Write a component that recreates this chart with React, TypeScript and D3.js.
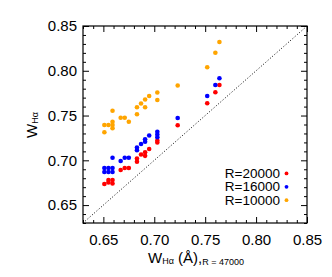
import { useEffect, useRef } from "react";
import * as d3 from "d3";

// values
const redX = [0.651, 0.655, 0.655, 0.659, 0.659, 0.667, 0.671, 0.675, 0.683, 0.683, 0.687, 0.691, 0.691, 0.695, 0.703, 0.703, 0.723, 0.752, 0.760, 0.764];
const redY = [0.6736, 0.678, 0.6753, 0.678, 0.6741, 0.6892, 0.6914, 0.6914, 0.702, 0.6985, 0.7065, 0.705, 0.709, 0.7127, 0.7221, 0.7199, 0.7392, 0.7637, 0.776, 0.7841];

const blueX = [0.651, 0.651, 0.655, 0.655, 0.659, 0.659, 0.659, 0.667, 0.671, 0.675, 0.683, 0.683, 0.687, 0.691, 0.691, 0.695, 0.703, 0.703, 0.703, 0.723, 0.752, 0.760, 0.764];
const blueY = [0.6914, 0.687, 0.6914, 0.687, 0.6914, 0.687, 0.7029, 0.6992, 0.7029, 0.7029, 0.7143, 0.7113, 0.7182, 0.7208, 0.7235, 0.7277, 0.7319, 0.7288, 0.7258, 0.7473, 0.7718, 0.7841, 0.7916];

const orangeX = [0.651, 0.651, 0.655, 0.659, 0.659, 0.659, 0.659, 0.667, 0.671, 0.675, 0.683, 0.683, 0.687, 0.691, 0.691, 0.695, 0.703, 0.703, 0.723, 0.752, 0.760, 0.764];
const orangeY = [0.7313, 0.7394, 0.7394, 0.7394, 0.7431, 0.7358, 0.7554, 0.7476, 0.7476, 0.7431, 0.7514, 0.7592, 0.7635, 0.7679, 0.7592, 0.7718, 0.7757, 0.7674, 0.7836, 0.8039, 0.8202, 0.8321];

const majorTicks = [0.65, 0.70, 0.75, 0.80, 0.85];
const legendLabels = ["R=20000", "R=16000", "R=10000"];
const colors = ["#ff0000", "#0000ff", "#ffa500"];

const App = () => {
    const ref = useRef<SVGSVGElement | null>(null);

    useEffect(() => {
        if (!ref.current) return;
        const svg = d3.select(ref.current);
        svg.selectAll("*").remove();

        const left = 83, right = 307, top = 26, bottom = 223;
        const font = "Liberation Sans, Arial, Helvetica, sans-serif";

        const x = d3.scaleLinear().domain([0.63, 0.85]).range([left, right]);
        const y = d3.scaleLinear().domain([0.63, 0.85]).range([bottom, top]);

        const minor = d3.range(63, 86).map(d => d / 100).filter(d => !majorTicks.some(m => Math.abs(m - d) < 1e-6));

        const styleAxis = (g: any) => {
            g.select(".domain").remove();
            g.selectAll("line").attr("stroke", "#000");
            g.selectAll("text").attr("fill", "#000").style("font-family", font).style("font-size", "15px");
        };

        // bottom
        svg.append("g").attr("transform", `translate(0,${bottom})`)
            .call(d3.axisBottom(x).tickValues(majorTicks).tickFormat(d3.format(".2f")).tickSize(-6).tickPadding(11))
            .call(styleAxis);
        svg.append("g").attr("transform", `translate(0,${bottom})`)
            .call(d3.axisBottom(x).tickValues(minor).tickFormat(() => "").tickSize(-3))
            .call(styleAxis);
        // top
        svg.append("g").attr("transform", `translate(0,${top})`)
            .call(d3.axisTop(x).tickValues(majorTicks).tickFormat(() => "").tickSize(-6))
            .call(styleAxis);
        svg.append("g").attr("transform", `translate(0,${top})`)
            .call(d3.axisTop(x).tickValues(minor).tickFormat(() => "").tickSize(-3))
            .call(styleAxis);
        // left
        svg.append("g").attr("transform", `translate(${left},0)`)
            .call(d3.axisLeft(y).tickValues(majorTicks).tickFormat(d3.format(".2f")).tickSize(-6).tickPadding(6))
            .call(styleAxis);
        svg.append("g").attr("transform", `translate(${left},0)`)
            .call(d3.axisLeft(y).tickValues(minor).tickFormat(() => "").tickSize(-3))
            .call(styleAxis);
        // right
        svg.append("g").attr("transform", `translate(${right},0)`)
            .call(d3.axisRight(y).tickValues(majorTicks).tickFormat(() => "").tickSize(-6))
            .call(styleAxis);
        svg.append("g").attr("transform", `translate(${right},0)`)
            .call(d3.axisRight(y).tickValues(minor).tickFormat(() => "").tickSize(-3))
            .call(styleAxis);

        // frame
        svg.append("rect")
            .attr("x", left).attr("y", top)
            .attr("width", right - left).attr("height", bottom - top)
            .attr("fill", "none").attr("stroke", "#000").attr("stroke-width", 1.2);

        // one-to-one line
        svg.append("line")
            .attr("x1", x(0.63)).attr("y1", y(0.63))
            .attr("x2", x(0.85)).attr("y2", y(0.85))
            .attr("stroke", "#000").attr("stroke-width", 1)
            .attr("stroke-dasharray", "1,2");

        // points
        const series = [
            { xs: redX, ys: redY },
            { xs: blueX, ys: blueY },
            { xs: orangeX, ys: orangeY },
        ];
        series.forEach((s, i) => {
            svg.append("g").selectAll("circle")
                .data(s.xs)
                .enter().append("circle")
                .attr("cx", d => x(d))
                .attr("cy", (_, j) => y(s.ys[j]))
                .attr("r", 2.3)
                .attr("fill", colors[i]);
        });

        // legend
        const lg = svg.append("g");
        legendLabels.forEach((lab, i) => {
            const by = 178 + i * 13.4;
            lg.append("text")
                .attr("x", 280).attr("y", by)
                .attr("text-anchor", "end")
                .style("font-family", font).style("font-size", "13.5px")
                .text(lab);
            lg.append("circle")
                .attr("cx", 286.5).attr("cy", by - 4.6)
                .attr("r", 1.9)
                .attr("fill", colors[i]);
        });

        // x label
        const xl = svg.append("text")
            .attr("x", 196).attr("y", 263)
            .attr("text-anchor", "middle")
            .style("font-family", font).style("font-size", "15px");
        xl.append("tspan").text("W");
        xl.append("tspan").attr("font-size", "9px").attr("dy", 1).text("Hα");
        xl.append("tspan").attr("dy", -1).text(" (Å),");
        xl.append("tspan").attr("font-size", "9px").attr("dy", 2).text("R = 47000");

        // y label
        const yl = svg.append("text")
            .attr("transform", "translate(37,125) rotate(-90)")
            .attr("text-anchor", "middle")
            .style("font-family", font).style("font-size", "15px");
        yl.append("tspan").text("W");
        yl.append("tspan").attr("font-size", "9px").attr("dy", 1).text("Hα");
    }, []);

    return (
        <svg ref={ref} width={332} height={277}
            style={{ position: "absolute", left: 0, top: 0, background: "#fff" }} />
    );
};

export default App;
